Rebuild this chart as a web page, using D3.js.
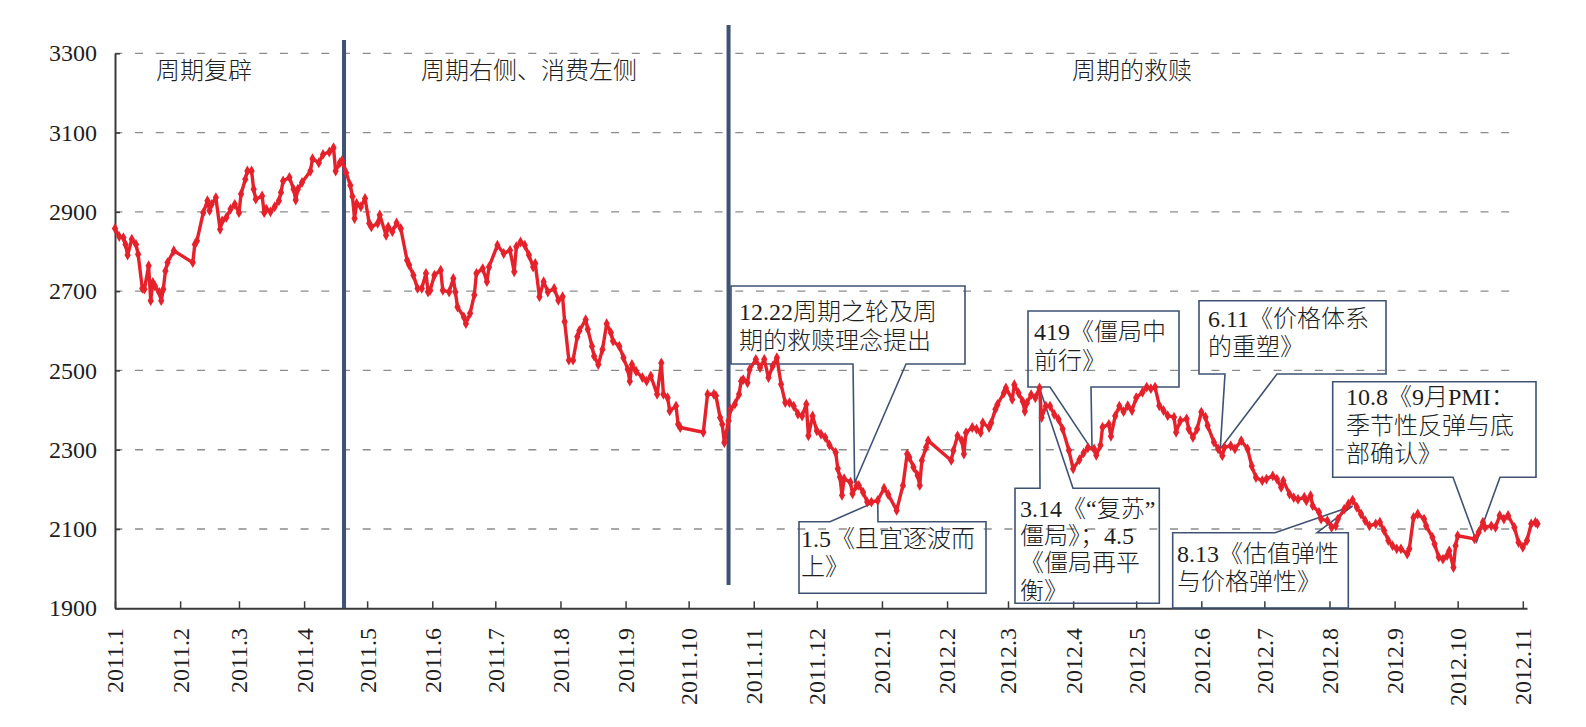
<!DOCTYPE html>
<html lang="zh">
  <head>
    <meta charset="UTF-8" />
    <title>周期的救赎</title>
    <script src="https://cdn.jsdelivr.net/npm/d3@7/dist/d3.min.js"></script>
    <style>
      body { margin: 0; background: #fff; }
      svg { display: block; }
      .grid { stroke: #8c8c8c; stroke-width: 1.3; stroke-dasharray: 8 12.7; }
    </style>
  </head>
  <body>
    <svg width="1586" height="727"></svg>
    <script>
      // 上证综指收盘
      const dates2011 = [
        "01-04","01-06","01-08","01-09","01-10","01-12","01-14","01-15","01-17","01-18",
        "01-20","01-21","01-22","01-23","01-25","01-26","01-27","01-28","01-29","02-01",
        "02-10","02-11","02-12","02-15","02-17","02-18","02-19","02-21","02-23","02-24",
        "02-26","02-28","03-02","03-04","03-05","03-07","03-08","03-10","03-11","03-12",
        "03-15","03-16","03-17","03-19","03-21","03-23","03-24","03-25","03-28","03-30",
        "03-31","04-01","04-03","04-07","04-08","04-11","04-13","04-16","04-18","04-19",
        "04-21","04-22","04-24","04-26","04-27","04-28","04-29","05-01","05-03","05-05",
        "05-06","05-09","05-10","05-13","05-14","05-16","05-18","05-20","05-23","05-24",
        "05-26","05-28","05-30","06-01","06-02","06-03","06-05","06-08","06-09","06-12",
        "06-14","06-15","06-16","06-19","06-20","06-22","06-24","06-25","06-28","06-30",
        "07-01","07-05","07-08","07-11","07-13","07-14","07-16","07-18","07-20","07-22",
        "07-23","07-25","07-27","07-29","08-01","08-03","08-05","08-06","08-08","08-10",
        "08-12","08-13","08-16","08-17","08-19","08-20","08-22","08-24","08-26","08-28",
        "08-29","09-01","09-03","09-05","09-06","09-07","09-09","09-12","09-14","09-16",
        "09-19","09-21","09-22","09-24","09-25","09-28","09-29","09-30","10-11","10-13",
        "10-16","10-17","10-19","10-20","10-21","10-23","10-24","10-26","10-28","10-29",
        "10-30","11-01","11-02","11-05","11-07","11-09","11-11","11-13","11-15","11-17",
        "11-19","11-21","11-23","11-25","11-27","11-29","11-30","12-02","12-04","12-06",
        "12-08","12-10","12-13","12-14","12-15","12-16","12-17","12-20","12-21","12-23",
        "12-24","12-26","12-28","12-30"
      ];
      const close2011 = [
        2858,2838,2835,2818,2791,2831,2818,2793,2707,2705,
        2764,2676,2722,2713,2697,2676,2705,2751,2772,2802,
        2772,2818,2827,2898,2928,2903,2919,2936,2856,2877,
        2886,2907,2919,2898,2945,2982,3003,3003,2957,2932,
        2940,2898,2907,2900,2913,2928,2949,2978,2987,2957,
        2930,2957,2974,3003,3034,3024,3045,3051,3062,3003,
        3024,3029,2999,2967,2939,2883,2921,2913,2934,2871,
        2862,2871,2892,2841,2862,2850,2872,2858,2778,2766,
        2740,2707,2707,2745,2698,2702,2740,2753,2702,2698,
        2732,2698,2660,2635,2618,2644,2690,2745,2757,2724,
        2761,2816,2795,2803,2749,2812,2824,2816,2791,2761,
        2770,2686,2724,2698,2707,2677,2686,2623,2526,2526,
        2585,2600,2628,2604,2561,2536,2515,2553,2618,2595,
        2574,2561,2532,2503,2473,2515,2498,2482,2473,2486,
        2440,2519,2440,2431,2398,2410,2364,2356,2344,2440,
        2440,2436,2381,2364,2318,2373,2402,2415,2440,2473,
        2477,2469,2502,2528,2507,2528,2482,2511,2532,2465,
        2419,2419,2410,2390,2385,2415,2335,2385,2348,2339,
        2331,2312,2293,2252,2231,2185,2227,2218,2189,2210,
        2210,2193,2168,2168
      ];
      const dates2012 = [
        "01-02","01-05","01-07","01-11","01-14","01-16","01-17","01-19","01-21","01-22",
        "01-23","01-25","01-26","02-06","02-07","02-09","02-11","02-12","02-13","02-16",
        "02-18","02-20","02-21","02-24","02-25","02-27","02-28","03-02","03-03","03-06",
        "03-07","03-09","03-11","03-12","03-13","03-15","03-17","03-19","03-20","03-22",
        "03-24","03-26","03-28","03-30","04-02","04-04","04-07","04-09","04-11","04-14",
        "04-15","04-17","04-18","04-21","04-22","04-24","04-26","04-28","04-30","05-02",
        "05-04","05-07","05-09","05-11","05-13","05-15","05-17","05-19","05-22","05-23",
        "05-25","05-28","05-29","05-31","06-02","06-04","06-06","06-07","06-10","06-12",
        "06-14","06-15","06-18","06-20","06-23","06-26","06-28","06-30","07-03","07-05",
        "07-08","07-10","07-12","07-13","07-16","07-18","07-20","07-23","07-24","07-26",
        "07-27","07-30","07-31","08-03","08-05","08-07","08-08","08-11","08-13","08-15",
        "08-17","08-19","08-21","08-23","08-26","08-28","08-30","09-01","09-03","09-05",
        "09-07","09-10","09-11","09-13","09-15","09-18","09-19","09-22","09-23","09-25",
        "09-27","09-29","09-30","10-02","10-03","10-04","10-12","10-14","10-16","10-17",
        "10-20","10-22","10-24","10-26","10-28","10-31","11-02","11-04","11-06","11-08",
        "11-10","11-11"
      ];
      const close2012 = [
        2172,2203,2187,2147,2210,2289,2281,2256,2235,2210,
        2273,2306,2323,2273,2298,2335,2323,2289,2343,2356,
        2352,2343,2368,2356,2368,2402,2414,2443,2456,2427,
        2464,2443,2422,2397,2418,2439,2431,2456,2381,2410,
        2410,2389,2377,2352,2298,2252,2275,2292,2305,2302,
        2286,2311,2357,2364,2334,2385,2410,2396,2411,2399,
        2431,2445,2458,2454,2458,2411,2399,2386,2382,2344,
        2373,2378,2352,2331,2352,2395,2382,2361,2319,2302,
        2285,2306,2310,2302,2323,2302,2259,2230,2222,2226,
        2234,2226,2205,2222,2188,2179,2175,2180,2171,2184,
        2159,2142,2125,2121,2104,2108,2125,2150,2163,2173,
        2155,2138,2121,2108,2113,2117,2096,2071,2058,2050,
        2050,2037,2050,2129,2138,2125,2108,2079,2062,2029,
        2024,2033,2045,2003,2058,2083,2075,2092,2117,2104,
        2108,2104,2134,2125,2134,2104,2066,2054,2071,2113,
        2117,2113
      ];

      const yTicks = [1900, 2100, 2300, 2500, 2700, 2900, 3100, 3300];
      const xTickLabels = [
        "2011.1","2011.2","2011.3","2011.4","2011.5","2011.6","2011.7","2011.8",
        "2011.9","2011.10","2011.11","2011.12","2012.1","2012.2","2012.3","2012.4",
        "2012.5","2012.6","2012.7","2012.8","2012.9","2012.10","2012.11"
      ];

      // 阶段分界与阶段名称
      const phaseDates = ["2011-04-23", "2011-10-23"];
      const phaseNames = ["周期复辟", "周期右侧、消费左侧", "周期的救赎"];

      // 报告标注
      const noteLines = [
        ["12.22周期之轮及周", "期的救赎理念提出"],
        ["1.5《且宜逐波而", "上》"],
        ["419《僵局中", "前行》"],
        ["3.14《“复苏”", "僵局》；4.5", "《僵局再平", "衡》"],
        ["6.11《价格体系", "的重塑》"],
        ["8.13《估值弹性", "与价格弹性》"],
        ["10.8《9月PMI：", "季节性反弹与底", "部确认》"]
      ];
      const noteTipDates = ["2011-12-22", "2012-01-02", "2012-04-13", "2012-03-19", "2012-06-13", "2012-08-15", "2012-10-13"];
      const noteTipValues = [2216, 2171, 2299, 2456, 2302, 2158, 2068];

      // ---- layout ----
      const parse = d3.timeParse("%Y-%m-%d");
      const data = dates2011.map((d, i) => ({ date: parse("2011-" + d), value: close2011[i] }))
        .concat(dates2012.map((d, i) => ({ date: parse("2012-" + d), value: close2012[i] })));

      const svg = d3.select("svg");
      const red = "#e5222b";
      const navy = "#3e5274";
      const axisColor = "#3a3a3a";
      const textColor = "#1e1e1e";
      const serif = "'Liberation Serif', 'Times New Roman', serif";
      const mixed = "'Liberation Serif', 'Noto Sans CJK SC', serif";
      const cjk = "'Noto Sans CJK SC', sans-serif";

      const x = d3.scaleTime()
        .domain([parse("2011-01-04"), parse("2012-11-06")])
        .range([115, 1527]);
      const y = d3.scaleLinear().domain([1900, 3300]).range([608.3, 53.3]);

      const tickDates = xTickLabels.map((s) => {
        const [yy, mm] = s.split(".").map(Number);
        return new Date(yy, mm - 1, 4);
      });

      // gridlines
      svg.append("g")
        .selectAll("line")
        .data(yTicks.slice(1))
        .join("line")
        .attr("class", "grid")
        .attr("x1", 115)
        .attr("x2", 1521)
        .attr("y1", (d) => y(d))
        .attr("y2", (d) => y(d))
        .attr("stroke-dashoffset", 0.7);

      // axes
      const yAxis = svg.append("g")
        .attr("transform", "translate(115,0)")
        .call(d3.axisLeft(y).tickValues(yTicks).tickFormat(d3.format("d"))
          .tickSize(-5).tickSizeOuter(0).tickPadding(18));
      yAxis.select(".domain").attr("stroke", axisColor).attr("stroke-width", 2);
      yAxis.selectAll(".tick line").attr("stroke", axisColor).attr("stroke-width", 1.5);
      yAxis.selectAll(".tick text")
        .style("font-family", serif)
        .style("font-size", "24px")
        .attr("fill", textColor);

      const xAxis = svg.append("g")
        .attr("transform", `translate(0,${y(1900)})`)
        .call(d3.axisBottom(x).tickValues(tickDates).tickSize(-7).tickSizeOuter(0).tickFormat(""));
      xAxis.select(".domain").attr("stroke", axisColor).attr("stroke-width", 2);
      xAxis.selectAll(".tick line").attr("stroke", axisColor).attr("stroke-width", 1.5);

      svg.append("g")
        .selectAll("text")
        .data(tickDates)
        .join("text")
        .style("font-family", serif)
        .style("font-size", "24px")
        .attr("fill", textColor)
        .attr("transform", (d) => `translate(${x(d)},628) rotate(-90)`)
        .attr("text-anchor", "end")
        .attr("dy", "0.35em")
        .text((d, i) => xTickLabels[i]);

      // phase separators
      const phaseTop = [40, 25];
      const phaseBottom = [608, 585];
      svg.append("g")
        .selectAll("line")
        .data(phaseDates)
        .join("line")
        .attr("x1", (d) => x(parse(d)))
        .attr("x2", (d) => x(parse(d)))
        .attr("y1", (d, i) => phaseTop[i])
        .attr("y2", (d, i) => phaseBottom[i])
        .attr("stroke", navy)
        .attr("stroke-width", 4);

      const phaseX = [156, 421, 1072];
      svg.append("g")
        .selectAll("text")
        .data(phaseNames)
        .join("text")
        .style("font-family", cjk)
        .style("font-size", "24px")
        .style("font-weight", 300)
        .attr("fill", textColor)
        .attr("x", (d, i) => phaseX[i])
        .attr("y", 70)
        .attr("dy", "0.36em")
        .text((d) => d);

      // callouts
      const noteBoxes = [
        { x: 731, y: 286, w: 234, h: 78, side: "bottom", b: [853, 906], tx: 739, ty: 311.7, lh: 28.3 },
        { x: 799, y: 521.7, w: 187, h: 71.6, side: "top", b: [830, 878], tx: 801, ty: 538, lh: 28.7 },
        { x: 1028, y: 311, w: 151, h: 76, side: "bottom", b: [1050, 1091], tx: 1034, ty: 331.7, lh: 28.3 },
        { x: 1015, y: 488.3, w: 144.3, h: 115, side: "top", b: [1040, 1073], tx: 1020, ty: 508, lh: 27.4 },
        { x: 1199, y: 300.7, w: 187, h: 73.3, side: "bottom", b: [1225, 1277], tx: 1208, ty: 318.3, lh: 28.4 },
        { x: 1172.7, y: 532.7, w: 175.6, h: 75.3, side: "top", b: [1275, 1317], tx: 1177, ty: 553.3, lh: 28.4 },
        { x: 1332.7, y: 381.7, w: 203.3, h: 95.6, side: "bottom", b: [1453, 1500], tx: 1346, ty: 396.7, lh: 28.3 }
      ];

      function calloutPath(bx, tip) {
        const r = bx.x + bx.w, btm = bx.y + bx.h;
        if (bx.side === "bottom") {
          return `M${bx.x},${bx.y}H${r}V${btm}H${bx.b[1]}L${tip[0]},${tip[1]}L${bx.b[0]},${btm}H${bx.x}Z`;
        }
        return `M${bx.x},${bx.y}H${bx.b[0]}L${tip[0]},${tip[1]}L${bx.b[1]},${bx.y}H${r}V${btm}H${bx.x}Z`;
      }

      const notes = svg.append("g")
        .selectAll("g")
        .data(noteBoxes)
        .join("g");

      notes.append("path")
        .attr("d", (bx, i) => calloutPath(bx, [x(parse(noteTipDates[i])), y(noteTipValues[i])]))
        .attr("fill", "none")
        .attr("stroke", navy)
        .attr("stroke-width", 1.6)
        .attr("stroke-linejoin", "miter");

      notes.each(function (bx, i) {
        d3.select(this)
          .selectAll("text")
          .data(noteLines[i])
          .join("text")
          .style("font-family", mixed)
          .style("font-size", "24px")
          .style("font-weight", 300)
          .attr("fill", textColor)
          .attr("x", bx.tx)
          .attr("y", (d, j) => bx.ty + j * bx.lh)
          .attr("dy", "0.36em")
          .text((d) => d);
      });

      // index line
      const line = d3.line()
        .x((d) => x(d.date))
        .y((d) => y(d.value));

      svg.append("path")
        .datum(data)
        .attr("fill", "none")
        .attr("stroke", red)
        .attr("stroke-width", 3.4)
        .attr("stroke-linejoin", "round")
        .attr("d", line);

      svg.append("g")
        .selectAll("path")
        .data(data)
        .join("path")
        .attr("transform", (d) => `translate(${x(d.date)},${y(d.value)})`)
        .attr("d", d3.symbol(d3.symbolDiamond, 34))
        .attr("fill", red);
    </script>
  </body>
</html>
